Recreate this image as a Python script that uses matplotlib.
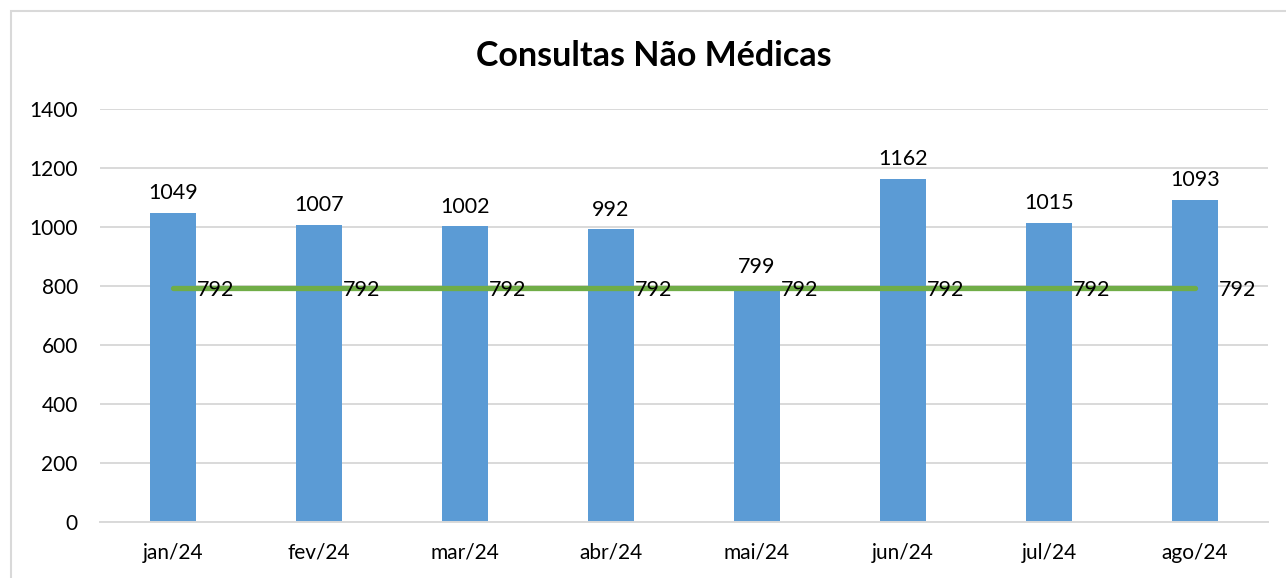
import matplotlib.pyplot as plt
import numpy as np
from matplotlib.patches import Rectangle

plt.rcParams['font.family'] = ['Lato', 'DejaVu Sans']

meses = ['jan/24', 'fev/24', 'mar/24', 'abr/24', 'mai/24', 'jun/24', 'jul/24', 'ago/24']
consultas = [1049, 1007, 1002, 992, 799, 1162, 1015, 1093]
meta = [792, 792, 792, 792, 792, 792, 792, 792]

fig = plt.figure(figsize=(12.86, 5.78), dpi=100)
ax = fig.add_axes([100/1286, 1 - 522/578, 1168/1286, 413/578])

x = np.arange(len(meses))
ax.bar(x, consultas, width=0.31, color='#5B9BD5', zorder=2)
ax.plot(x, meta, color='#70AD47', linewidth=3.8, solid_capstyle='round', zorder=3)

for xi, v in zip(x, consultas):
    ax.annotate(str(v), (xi, v), xytext=(0, 7), textcoords='offset points',
                ha='center', va='bottom', fontsize=15.5, color='#000000')
for xi, v in zip(x, meta):
    ax.annotate(str(v), (xi, v), xytext=(17, -1), textcoords='offset points',
                ha='left', va='center', fontsize=15.5, color='#000000',
                zorder=4, annotation_clip=False)

ax.set_xlim(-0.5, len(meses) - 0.5)
ax.set_ylim(0, 1400)
ax.set_yticks(np.arange(0, 1401, 200))
ax.set_xticks(x)
ax.set_xticklabels(meses)
ax.tick_params(axis='both', length=0, labelsize=15, colors='#000000')
ax.tick_params(axis='y', pad=16)
ax.tick_params(axis='x', pad=15)
ax.yaxis.grid(True, color='#D9D9D9', linewidth=1.4, zorder=0)
ax.set_axisbelow(True)
for s in ['top', 'right', 'left']:
    ax.spines[s].set_visible(False)
ax.spines['bottom'].set_color('#D9D9D9')
ax.spines['bottom'].set_linewidth(1.4)

fig.text(654/1286, 1 - 56/578, 'Consultas Não Médicas', ha='center', va='center',
         fontsize=24.5, fontweight='bold', color='#000000')

fig.patches.append(Rectangle((11/1286, -0.05), 1.2, 1 - 11/578 + 0.05,
                             transform=fig.transFigure, fill=False,
                             edgecolor='#D9D9D9', linewidth=1.5))

fig.savefig('out.png', dpi=100)
